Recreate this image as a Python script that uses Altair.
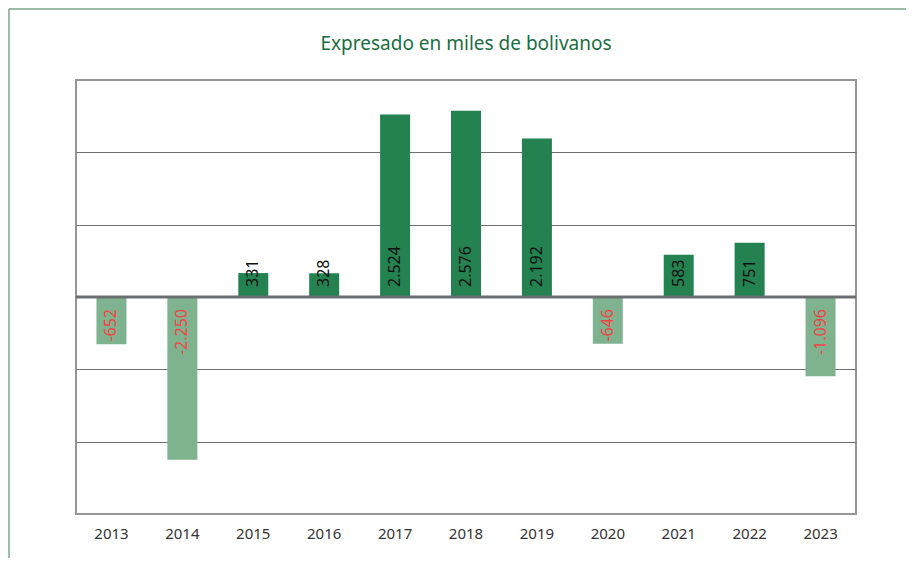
import altair as alt
import pandas as pd

years = ["2013", "2014", "2015", "2016", "2017", "2018", "2019", "2020", "2021", "2022", "2023"]
values = [-652, -2250, 331, 328, 2524, 2576, 2192, -646, 583, 751, -1096]
title_text = "Expresado en miles de bolivanos"

labels = [f"{v:,}".replace(",", ".") for v in values]
df = pd.DataFrame({"year": years, "value": values, "label": labels})

W, H = 780, 434
FONT = "Noto Sans"
DARK = "#238250"
LIGHT = "#7fb28f"

x_enc = alt.X("year:N", sort=years, title=None,
              scale=alt.Scale(paddingInner=0.577, paddingOuter=0.2885),
              axis=alt.Axis(labelAngle=0, ticks=False, domain=False, labelPadding=12,
                            labelFontSize=15, labelColor="#333333", labelFont=FONT, grid=False))
y_enc = alt.Y("value:Q", title=None,
              scale=alt.Scale(domain=[-3000, 3000], nice=False),
              axis=alt.Axis(values=[-2000, -1000, 1000, 2000], labels=False, ticks=False,
                            domain=False, grid=True, gridColor="#6e6e6e", gridWidth=1))

base = alt.Chart(df)

bars = base.mark_bar().encode(
    x=x_enc, y=y_enc,
    color=alt.condition(alt.datum.value < 0, alt.value(LIGHT), alt.value(DARK)),
)

zero = alt.Chart(pd.DataFrame({"z": [0]})).mark_rule(color="#6b6e70", strokeWidth=3).encode(
    y=alt.Y("z:Q", scale=alt.Scale(domain=[-3000, 3000], nice=False))
)

pos_text = base.transform_filter(alt.datum.value >= 0).mark_text(
    angle=270, align="left", baseline="middle", dx=10, fontSize=16, font=FONT, color="#111111"
).encode(x=alt.X("year:N", sort=years), y=alt.datum(0), text="label:N")

neg_text = base.transform_filter(alt.datum.value < 0).mark_text(
    angle=270, align="right", baseline="middle", dx=-12, fontSize=16, font=FONT, color="#f04545"
).encode(x=alt.X("year:N", sort=years), y=alt.datum(0), text="label:N")

title = alt.Chart(pd.DataFrame({"t": [title_text]})).mark_text(
    fontSize=19, font=FONT, color="#1b6e3f", baseline="middle", align="center"
).encode(x=alt.value(W / 2), y=alt.value(-36), text="t:N")

frame_top = alt.Chart(pd.DataFrame({"a": [0]})).mark_rule(color="#7aa58a", strokeWidth=1.5).encode(
    x=alt.value(-67), x2=alt.value(W + 60), y=alt.value(-71)
)
frame_left = alt.Chart(pd.DataFrame({"a": [0]})).mark_rule(color="#7aa58a", strokeWidth=1.5).encode(
    x=alt.value(-67), y=alt.value(-71), y2=alt.value(H + 60)
)

chart = alt.layer(bars, zero, pos_text, neg_text, title, frame_top, frame_left).properties(
    width=W, height=H,
    autosize=alt.AutoSizeParams(type="none"),
    padding={"left": 68, "top": 72, "right": 50, "bottom": 44},
).configure(background="white").configure_view(stroke="#959595", strokeWidth=2)

chart.save("out.html", embed_options={"renderer": "svg", "actions": False})
